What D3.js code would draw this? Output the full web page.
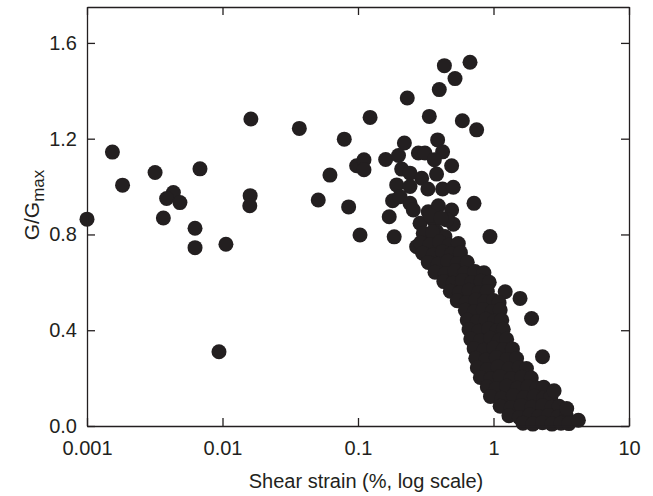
<!DOCTYPE html>
<html>
<head>
<meta charset="utf-8">
<script src="https://cdn.jsdelivr.net/npm/d3@7"></script>
<style>
  body { margin: 0; background: #fff; }
  svg text { font-family: "Liberation Sans", Arial, sans-serif; fill: #231f20; }
</style>
</head>
<body>
<svg id="chart" width="653" height="496"></svg>
<script>
// tick values
const xTicks = [0.001, 0.01, 0.1, 1, 10];
const xTickLabels = ["0.001", "0.01", "0.1", "1", "10"];
const yTicks = [0, 0.4, 0.8, 1.2, 1.6];
const yTickLabels = ["0.0", "0.4", "0.8", "1.2", "1.6"];

// [shear strain %, G/Gmax] - small strain scatter
const sparsePoints = [
  [0.001, 0.864], [0.00154, 1.144], [0.00183, 1.006], [0.00318, 1.059],
  [0.00434, 0.975], [0.00387, 0.950], [0.00485, 0.933], [0.00366, 0.869],
  [0.00682, 1.074], [0.00627, 0.826], [0.00627, 0.745], [0.0106, 0.759],
  [0.00942, 0.310], [0.0162, 1.282], [0.0160, 0.962], [0.0159, 0.920],
  [0.0369, 1.243], [0.0509, 0.944], [0.0621, 1.048], [0.0792, 1.198],
  [0.0853, 0.915], [0.0977, 1.087]
];

// 0.1 - 1 % transition zone
const transitionPoints = [
  [0.1035, 0.798], [0.1107, 1.112], [0.1107, 1.070], [0.1228, 1.289],
  [0.160, 1.113], [0.170, 0.874], [0.185, 0.790], [0.180, 0.941],
  [0.671, 1.519], [0.434, 1.505], [0.520, 1.451], [0.398, 1.405],
  [0.231, 1.370], [0.336, 1.293], [0.589, 1.275], [0.751, 1.237],
  [0.220, 1.182], [0.387, 1.195], [0.421, 1.145], [0.199, 1.130],
  [0.279, 1.140], [0.312, 1.140], [0.366, 1.112], [0.491, 1.087],
  [0.210, 1.073], [0.242, 1.056], [0.380, 1.052], [0.295, 1.035],
  [0.193, 1.007], [0.242, 1.000], [0.328, 0.990], [0.421, 0.990],
  [0.505, 0.997], [0.204, 0.958], [0.242, 0.930], [0.256, 0.902],
  [0.718, 0.930], [0.942, 0.791], [0.330, 0.895], [0.392, 0.920],
  [0.491, 0.902], [0.287, 0.847], [0.360, 0.861], [0.505, 0.843],
  [0.452, 0.861], [0.340, 0.880], [0.410, 0.868], [0.303, 0.805],
  [0.380, 0.812], [0.438, 0.791], [0.355, 0.810], [0.271, 0.749],
  [0.451, 0.721], [0.549, 0.742]
];

// dense band, 0.3 - 4 %
const densePoints = [
  [0.29, 0.765], [0.34, 0.757], [0.40, 0.768], [0.47, 0.755], [0.55, 0.762],
  [0.30, 0.722], [0.36, 0.715], [0.42, 0.728], [0.49, 0.718], [0.57, 0.724],
  [0.33, 0.683], [0.39, 0.676], [0.46, 0.688], [0.54, 0.679], [0.64, 0.684],
  [0.37, 0.642], [0.44, 0.635], [0.52, 0.648], [0.61, 0.638], [0.73, 0.645], [0.85, 0.640],
  [0.43, 0.603], [0.50, 0.596], [0.59, 0.608], [0.69, 0.598], [0.81, 0.605], [0.93, 0.600],
  [0.48, 0.563], [0.56, 0.556], [0.66, 0.567], [0.78, 0.558], [0.90, 0.562], [1.22, 0.561],
  [0.54, 0.523], [0.63, 0.516], [0.74, 0.526], [0.86, 0.518], [1.00, 0.524], [1.10, 0.515],
  [0.62, 0.483], [0.72, 0.476], [0.84, 0.487], [0.98, 0.478], [1.12, 0.484],
  [0.64, 0.443], [0.76, 0.436], [0.88, 0.446], [1.02, 0.438], [1.15, 0.442],
  [0.66, 0.403], [0.78, 0.396], [0.92, 0.406], [1.06, 0.398], [1.18, 0.404],
  [0.68, 0.363], [0.80, 0.356], [0.95, 0.366], [1.10, 0.358], [1.25, 0.362],
  [0.72, 0.323], [0.85, 0.316], [1.00, 0.326], [1.18, 0.318], [1.38, 0.322],
  [0.74, 0.283], [0.88, 0.276], [1.05, 0.286], [1.25, 0.278], [1.48, 0.282],
  [0.76, 0.243], [0.90, 0.236], [1.08, 0.246], [1.30, 0.238], [1.55, 0.244], [1.75, 0.240],
  [0.80, 0.203], [0.95, 0.196], [1.12, 0.206], [1.35, 0.198], [1.62, 0.204], [1.90, 0.200],
  [0.90, 0.163], [1.05, 0.156], [1.25, 0.166], [1.50, 0.158], [1.80, 0.164], [2.10, 0.158], [2.35, 0.162],
  [0.95, 0.123], [1.15, 0.116], [1.40, 0.126], [1.68, 0.118], [2.00, 0.124], [2.35, 0.118], [2.65, 0.122],
  [1.12, 0.083], [1.35, 0.076], [1.60, 0.086], [1.92, 0.078], [2.30, 0.084], [2.70, 0.078], [3.05, 0.082],
  [1.30, 0.043], [1.55, 0.036], [1.85, 0.046], [2.15, 0.038], [2.55, 0.044], [3.00, 0.038], [3.45, 0.042],
  [1.65, 0.012], [1.95, 0.008], [2.30, 0.014], [2.70, 0.008], [3.15, 0.012], [3.60, 0.010],
  [1.57, 0.533], [1.91, 0.449], [2.30, 0.289], [2.80, 0.147], [3.47, 0.073], [4.23, 0.024]
];

const svg = d3.select("#chart"),
    margin = {top: 7, right: 24, bottom: 70, left: 87},
    width = +svg.attr("width") - margin.left - margin.right,
    height = +svg.attr("height") - margin.top - margin.bottom;

const x = d3.scaleLog().domain([0.001, 10]).range([0, width]);
const y = d3.scaleLinear().domain([0, 1.75]).range([height, 0]);

const g = svg.append("g")
    .attr("transform", "translate(" + margin.left + "," + margin.top + ")");

const ink = "#231f20";
const tickLen = 8;

// points first, frame on top
const allPoints = sparsePoints.concat(transitionPoints, densePoints);
g.selectAll("circle")
  .data(allPoints)
  .enter().append("circle")
    .attr("cx", d => x(d[0]))
    .attr("cy", d => y(d[1]))
    .attr("r", 7.5)
    .attr("fill", ink);

// axes with inward ticks on all four sides
const fmtX = d => xTickLabels[xTicks.indexOf(d)];
const fmtY = (d, i) => yTickLabels[i];

const axisBottomG = g.append("g")
    .attr("transform", "translate(0," + height + ")")
    .call(d3.axisBottom(x).tickValues(xTicks).tickFormat(fmtX).tickSizeInner(-tickLen).tickSizeOuter(0).tickPadding(15));
const axisLeftG = g.append("g")
    .call(d3.axisLeft(y).tickValues(yTicks).tickFormat(fmtY).tickSizeInner(-tickLen).tickSizeOuter(0).tickPadding(10));
const axisTopG = g.append("g")
    .call(d3.axisTop(x).tickValues(xTicks).tickFormat("").tickSizeInner(-tickLen).tickSizeOuter(0));
const axisRightG = g.append("g")
    .attr("transform", "translate(" + width + ",0)")
    .call(d3.axisRight(y).tickValues(yTicks).tickFormat("").tickSizeInner(-tickLen).tickSizeOuter(0));

[axisBottomG, axisLeftG, axisTopG, axisRightG].forEach(a => {
  a.selectAll("path, line").attr("stroke", ink).attr("stroke-width", 1.3);
  a.selectAll("text").attr("font-size", 20).attr("fill", ink)
      .style("font-family", "'Liberation Sans', Arial, sans-serif");
});

// axis titles
svg.append("text")
    .attr("x", 366)
    .attr("y", 488)
    .attr("text-anchor", "middle")
    .attr("font-size", 20)
    .text("Shear strain (%, log scale)");

const yTitle = svg.append("text")
    .attr("transform", "translate(39,205) rotate(-90)")
    .attr("text-anchor", "middle")
    .attr("font-size", 21);
yTitle.append("tspan").text("G/G");
yTitle.append("tspan").attr("font-size", 17).attr("dy", 5).text("max");
</script>
</body>
</html>
